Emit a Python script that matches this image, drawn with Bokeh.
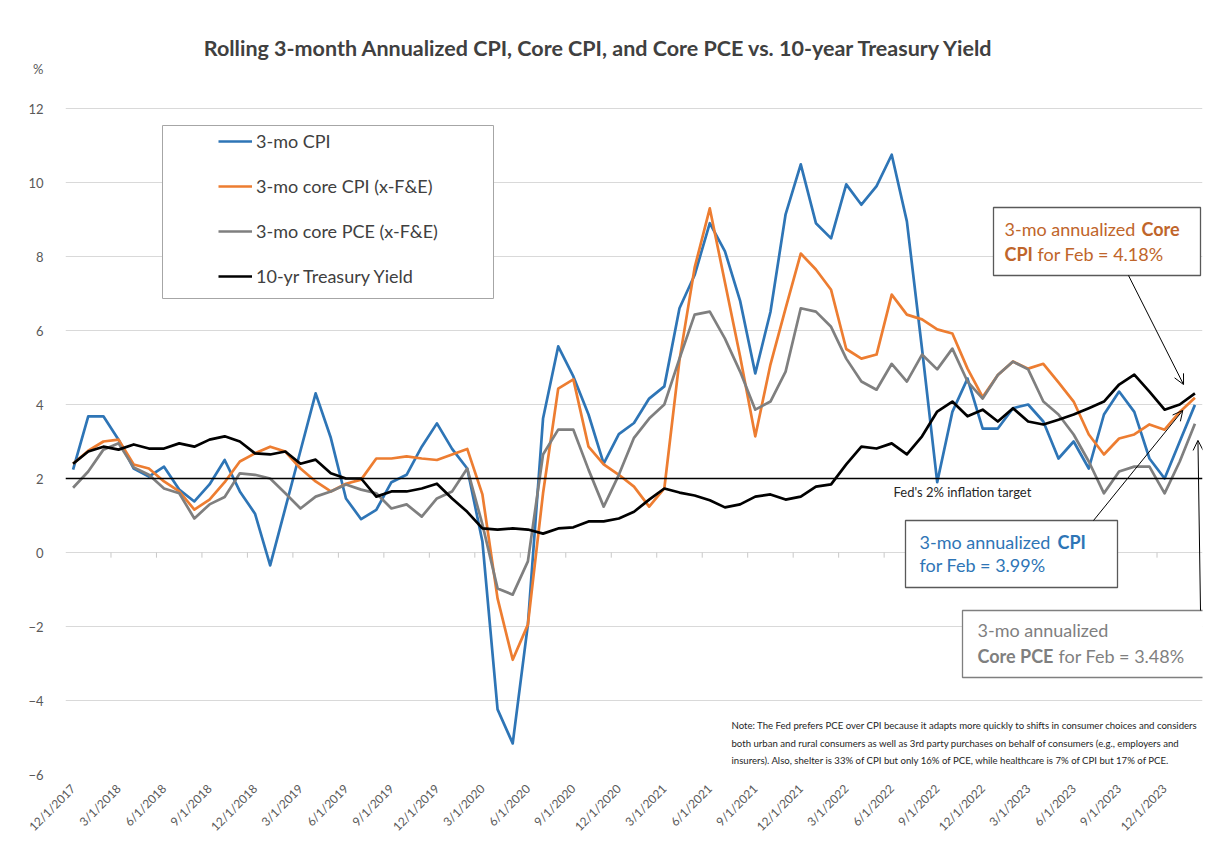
import math
from bokeh.plotting import figure
from bokeh.models import (Range1d, FixedTicker, Span, Label, BoxAnnotation, Arrow,
                          OpenHead, Legend, LegendItem)
from bokeh.embed import file_html
from bokeh.resources import INLINE

# ---------------- data (monthly, 12/1/2017 .. 2/1/2024) ----------------
tick_labels = ["12/1/2017", "3/1/2018", "6/1/2018", "9/1/2018", "12/1/2018",
               "3/1/2019", "6/1/2019", "9/1/2019", "12/1/2019", "3/1/2020",
               "6/1/2020", "9/1/2020", "12/1/2020", "3/1/2021", "6/1/2021",
               "9/1/2021", "12/1/2021", "3/1/2022", "6/1/2022", "9/1/2022",
               "12/1/2022", "3/1/2023", "6/1/2023", "9/1/2023", "12/1/2023"]

cpi = [2.24, 3.68, 3.68, 3.05, 2.27, 2.05, 2.32, 1.70, 1.38, 1.84,
       2.50, 1.65, 1.05, -0.35, 1.20, 2.75, 4.30, 3.10, 1.46, 0.90,
       1.15, 1.90, 2.10, 2.86, 3.49, 2.80, 2.27, 0.30, -4.24, -5.16,
       -1.95, 3.62, 5.57, 4.76, 3.73, 2.40, 3.20, 3.50, 4.16, 4.49,
       6.60, 7.50, 8.90, 8.14, 6.80, 4.84, 6.50, 9.14, 10.49, 8.90,
       8.49, 9.95, 9.40, 9.90, 10.75, 8.95, 5.50, 1.90, 3.80, 4.70,
       3.35, 3.35, 3.90, 4.00, 3.54, 2.54, 3.00, 2.27, 3.73, 4.35,
       3.80, 2.54, 2.00, 3.00, 3.99]

core_cpi = [2.40, 2.75, 3.00, 3.05, 2.38, 2.27, 1.92, 1.65, 1.16, 1.43,
            1.90, 2.46, 2.68, 2.86, 2.73, 2.27, 1.92, 1.65, 1.86, 1.97,
            2.54, 2.54, 2.60, 2.54, 2.50, 2.65, 2.80, 1.57, -1.24, -2.90,
            -1.95, 1.60, 4.43, 4.68, 2.86, 2.38, 2.10, 1.78, 1.24, 1.73,
            5.20, 7.70, 9.30, 7.30, 5.30, 3.14, 5.08, 6.60, 8.08, 7.65,
            7.10, 5.50, 5.24, 5.35, 6.97, 6.43, 6.30, 6.03, 5.92, 4.97,
            4.20, 4.80, 5.16, 4.97, 5.10, 4.60, 4.08, 3.19, 2.65, 3.08,
            3.19, 3.46, 3.32, 3.80, 4.18]

core_pce = [1.75, 2.19, 2.78, 2.95, 2.30, 2.10, 1.73, 1.60, 0.92, 1.30,
            1.50, 2.14, 2.10, 2.00, 1.60, 1.19, 1.51, 1.65, 1.84, 1.70,
            1.60, 1.19, 1.30, 0.97, 1.46, 1.65, 2.27, 0.76, -0.97, -1.14,
            -0.24, 2.65, 3.32, 3.32, 2.24, 1.24, 2.10, 3.10, 3.62, 4.00,
            5.24, 6.43, 6.51, 5.78, 4.89, 3.86, 4.08, 4.89, 6.60, 6.51,
            6.10, 5.24, 4.62, 4.40, 5.10, 4.62, 5.35, 4.95, 5.51, 4.62,
            4.16, 4.80, 5.16, 4.95, 4.08, 3.73, 3.19, 2.46, 1.60, 2.19,
            2.32, 2.32, 1.60, 2.46, 3.48]

treasury = [2.40, 2.73, 2.86, 2.78, 2.92, 2.81, 2.81, 2.95, 2.86, 3.05,
            3.14, 3.00, 2.68, 2.65, 2.73, 2.40, 2.51, 2.14, 2.00, 2.00,
            1.51, 1.65, 1.65, 1.73, 1.86, 1.46, 1.10, 0.65, 0.62, 0.65,
            0.62, 0.51, 0.65, 0.68, 0.84, 0.84, 0.92, 1.10, 1.43, 1.73,
            1.62, 1.54, 1.41, 1.22, 1.30, 1.51, 1.57, 1.43, 1.51, 1.78,
            1.84, 2.38, 2.86, 2.81, 2.95, 2.65, 3.14, 3.81, 4.08, 3.68,
            3.86, 3.54, 3.90, 3.54, 3.46, 3.59, 3.73, 3.90, 4.08, 4.54,
            4.81, 4.35, 3.86, 4.00, 4.30]

series_names = ["3-mo CPI", "3-mo core CPI (x-F&E)", "3-mo core PCE (x-F&E)",
                "10-yr Treasury Yield"]
y_ticks = [-6, -4, -2, 0, 2, 4, 6, 8, 10, 12]
fed_target = 2

months = list(range(len(cpi)))
tick_pos = [3 * k for k in range(len(tick_labels))]

# ---------------- layout ----------------
BLUE, ORANGE, GRAY, BLACK = "#2E75B6", "#ED7D31", "#7F7F7F", "#000000"
W, H = 1210, 860
FL, FR, FB = 65, 1202, 774     # frame edges in page pixels (frame top = 0)
Y_TOP_PX = 108                 # page pixel of the top gridline (12)
PX_PER_UNIT = (FB - Y_TOP_PX) / (y_ticks[-1] - y_ticks[0])
y_end = y_ticks[0] + FB / PX_PER_UNIT
FONT = "Lato"


def sx(X):
    return X - FL


def sy(Y):
    return FB - Y


def yval(Y):
    return y_ticks[0] + (FB - Y) / PX_PER_UNIT


p = figure(width=W, height=H, output_backend="svg", toolbar_location=None,
           x_range=Range1d(-0.5, len(cpi) - 0.5), y_range=Range1d(y_ticks[0], y_end),
           min_border_left=FL, min_border_right=W - FR,
           min_border_top=0, min_border_bottom=H - FB)
p.outline_line_color = None
p.background_fill_color = "white"
p.border_fill_color = "white"

# axes
p.xaxis.ticker = FixedTicker(ticks=tick_pos)
p.xaxis.major_label_overrides = {t: l for t, l in zip(tick_pos, tick_labels)}
p.xaxis.major_label_orientation = math.pi / 4
p.xaxis.axis_line_color = None
p.xaxis.major_tick_line_color = None
p.xaxis.minor_tick_line_color = None
p.xaxis.major_label_standoff = 6
p.xaxis.major_label_text_font = FONT
p.xaxis.major_label_text_font_size = "12px"
p.xaxis.major_label_text_color = "#595959"

pct_pos = round(yval(68), 3)    # the "%" unit label sits above the top tick
p.yaxis.ticker = FixedTicker(ticks=y_ticks + [pct_pos])
p.yaxis.major_label_overrides = {pct_pos: "%"}
p.yaxis.axis_line_color = None
p.yaxis.major_tick_line_color = None
p.yaxis.minor_tick_line_color = None
p.yaxis.major_label_standoff = 16
p.yaxis.major_label_text_font = FONT
p.yaxis.major_label_text_font_size = "13px"
p.yaxis.major_label_text_color = "#595959"

p.xgrid.visible = False
p.ygrid.ticker = FixedTicker(ticks=y_ticks)
p.ygrid.grid_line_color = "#D9D9D9"
p.ygrid.grid_line_width = 1

# small category-axis tick marks on the zero line (between categories)
tm = [t - 0.5 for t in tick_pos if t > 0]
p.segment(x0=tm, x1=tm, y0=[0] * len(tm), y1=[-0.14] * len(tm),
          line_color="#C8C8C8", line_width=1)

# series
lw = 2.7
r_cpi = p.line(months, cpi, line_color=BLUE, line_width=lw, line_join="round")
r_core = p.line(months, core_cpi, line_color=ORANGE, line_width=lw, line_join="round")
r_pce = p.line(months, core_pce, line_color=GRAY, line_width=lw, line_join="round")
r_ty = p.line(months, treasury, line_color=BLACK, line_width=lw, line_join="round")

# Fed target line
p.add_layout(Span(location=fed_target, dimension="width", line_color="black",
                  line_width=1.3))


def lab(text, X, Y, size, color, bold=False, align="left", font=FONT):
    p.add_layout(Label(x=sx(X), y=sy(Y), x_units="screen", y_units="screen",
                       text=text, text_font=font, text_font_size=f"{size}px",
                       text_color=color, text_align=align, text_baseline="middle",
                       text_font_style="bold" if bold else "normal"))


def box(X0, Y0, X1, Y1, color, width=1.3):
    p.add_layout(BoxAnnotation(left=sx(X0), right=sx(X1), top=sy(Y0), bottom=sy(Y1),
                               left_units="screen", right_units="screen",
                               top_units="screen", bottom_units="screen",
                               fill_color="white", fill_alpha=1.0,
                               line_color=color, line_width=width, line_alpha=1.0))


# title
lab("Rolling 3-month Annualized CPI, Core CPI, and Core PCE vs. 10-year Treasury Yield",
    599, 47, 21.5, "#404040", bold=True, align="center")

# legend
box(162, 125, 493, 298, "#A6A6A6", 1.0)
legend = Legend(items=[LegendItem(label=n, renderers=[r])
                       for n, r in zip(series_names, [r_cpi, r_core, r_pce, r_ty])],
                location=(sx(218), sy(287)), padding=0, margin=0, spacing=23,
                glyph_width=34, glyph_height=20, label_height=20, label_standoff=4,
                label_text_font=FONT, label_text_font_size="18px",
                label_text_color="#404040", border_line_color=None,
                background_fill_alpha=0.0)
p.add_layout(legend)

# Fed target text
lab("Fed's 2% inflation target", 893, 491, 13, "#262626")

# annotation boxes
ORANGE_T, BLUE_T, GRAY_T = "#C0652A", "#2E75B6", "#7F7F7F"
box(993, 207, 1200, 275, "#595959")
lab("3-mo annualized", 1004, 228, 18, ORANGE_T)
lab("Core", 1141, 228, 18, ORANGE_T, bold=True)
lab("CPI", 1004, 253, 18, ORANGE_T, bold=True)
lab("for Feb = 4.18%", 1037, 253, 18, ORANGE_T)

box(905, 520, 1117, 587, "#595959")
lab("3-mo annualized", 919, 541, 18, BLUE_T)
lab("CPI", 1057, 541, 18, BLUE_T, bold=True)
lab("for Feb = 3.99%", 919, 564, 18, BLUE_T)

box(962, 610, 1215, 677, "#7F7F7F")
lab("3-mo annualized", 977, 629, 18, GRAY_T)
lab("Core PCE", 977, 655, 18, GRAY_T, bold=True)
lab("for Feb = 3.48%", 1058, 655, 18, GRAY_T)

# arrows from boxes to the final data points
last = len(cpi) - 1
head = dict(size=10, line_color="black", line_width=1.0)
p.add_layout(Arrow(end=OpenHead(**head), x_start=sx(1128), y_start=sy(275),
                   start_units="screen", x_end=last - 0.75, y_end=core_cpi[-1] + 0.36,
                   line_color="black", line_width=1.0))
p.add_layout(Arrow(end=OpenHead(**head), x_start=sx(1093), y_start=sy(520),
                   start_units="screen", x_end=last - 0.8, y_end=cpi[-1] - 0.15,
                   line_color="black", line_width=1.0))
p.add_layout(Arrow(end=OpenHead(**head), x_start=sx(1200), y_start=sy(610),
                   start_units="screen", x_end=last + 0.2, y_end=core_pce[-1] - 0.45,
                   line_color="black", line_width=1.0))

# note
note = ["Note: The Fed prefers PCE over CPI because it adapts more quickly to shifts in consumer choices and considers",
        "both urban and rural consumers as well as 3rd party purchases on behalf of consumers (e.g., employers and",
        "insurers). Also, shelter is 33% of CPI but only 16% of PCE, while healthcare is 7% of CPI but 17% of PCE."]
for i, line in enumerate(note):
    lab(line, 731, 725 + 17.5 * i, 9.6, "#1E1E1E")

open("out.html", "w").write(file_html(p, INLINE))
